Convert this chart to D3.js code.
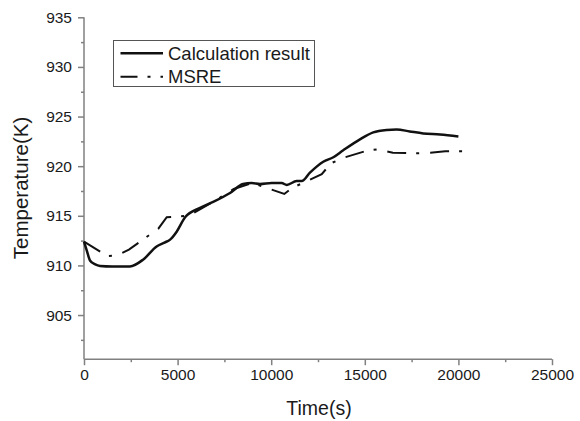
<!DOCTYPE html>
<html>
<head>
<meta charset="utf-8">
<script src="https://cdn.jsdelivr.net/npm/d3@7"></script>
<style>
  html, body { margin: 0; padding: 0; background: #fff; }
  svg { display: block; font-family: "Liberation Sans", Arial, sans-serif; }
  .axis path, .axis line { stroke: #808080; stroke-width: 1.5; }
  .axis text { fill: #1a1a1a; font-size: 15.5px; }
</style>
</head>
<body>
<svg id="chart" width="580" height="421"></svg>
<script>
// Calculation result: [time (s), temperature (K)]
const calcTime = [0, 150, 320, 600, 855, 1500, 2450, 3170, 3880, 4300, 4600, 4950, 5400, 6200, 6900,
  7800, 8500, 8960, 9400, 10030, 10560, 10830, 11360, 11630, 12070, 12780, 13320, 13850, 14740,
  15450, 16170, 16700, 17400, 18120, 19020, 20000];
const calcTemp = [912.4, 911.5, 910.5, 910.1, 909.95, 909.9, 909.9, 910.6, 911.9, 912.3, 912.6, 913.4,
  914.85, 915.8, 916.4, 917.3, 918.2, 918.3, 918.2, 918.3, 918.3, 918.1, 918.5, 918.5, 919.35, 920.45,
  920.9, 921.6, 922.7, 923.4, 923.65, 923.7, 923.5, 923.3, 923.2, 923.0];

// MSRE measurement
const msreTime = [0, 1250, 1750, 2400, 3970, 4420, 5580, 6900, 8000, 9000, 10700, 11100, 11800, 12700,
  13200, 13950, 15100, 15700, 16500, 17800, 18500, 19300, 20500];
const msreTemp = [912.4, 910.95, 911.0, 911.6, 913.7, 914.85, 915.0, 916.4, 917.7, 918.3, 917.2, 917.8,
  918.4, 919.2, 920.3, 920.9, 921.55, 921.7, 921.35, 921.3, 921.35, 921.5, 921.5];

const xTicks = [0, 5000, 10000, 15000, 20000, 25000];
const yTicks = [905, 910, 915, 920, 925, 930, 935];
const seriesNames = ['Calculation result', 'MSRE'];

const svg = d3.select('#chart');
const x = d3.scaleLinear().domain([0, 25000]).range([84, 552]);
const y = d3.scaleLinear().domain([900.55, 935]).range([359.2, 17.3]);

// minor ticks (no labels)
const xMinor = d3.range(0, 25001, 2500).filter((v) => !xTicks.includes(v));
const yMinor = d3.range(902.5, 935, 5);

svg.append('g')
  .attr('class', 'axis')
  .attr('transform', `translate(0,${y.range()[0]})`)
  .call(d3.axisBottom(x).tickValues(xTicks).tickSize(6).tickPadding(4).tickFormat(d3.format('d')))
  .call((g) => g.select('.domain').attr('d', `M${x.range()[0]},0H${x.range()[1]}`));

svg.append('g')
  .attr('class', 'axis')
  .attr('transform', `translate(0,${y.range()[0]})`)
  .call(d3.axisBottom(x).tickValues(xMinor).tickSize(3).tickFormat(''))
  .call((g) => g.select('.domain').remove());

svg.append('g')
  .attr('class', 'axis')
  .attr('transform', `translate(${x.range()[0]},0)`)
  .call(d3.axisLeft(y).tickValues(yTicks).tickSize(6).tickPadding(6).tickFormat(d3.format('d')))
  .call((g) => g.select('.domain').attr('d', `M0,${y.range()[0]}V${y.range()[1]}`));

svg.append('g')
  .attr('class', 'axis')
  .attr('transform', `translate(${x.range()[0]},0)`)
  .call(d3.axisLeft(y).tickValues(yMinor).tickSize(3).tickFormat(''))
  .call((g) => g.select('.domain').remove());

// lines
const smoothLine = d3.line()
  .x((d) => x(d[0]))
  .y((d) => y(d[1]))
  .curve(d3.curveMonotoneX);

const straightLine = d3.line()
  .x((d) => x(d[0]))
  .y((d) => y(d[1]));

const msreData = msreTime.map((t, i) => [t, msreTemp[i]]);
const calcData = calcTime.map((t, i) => [t, calcTemp[i]]);

svg.append('path')
  .datum(msreData)
  .attr('d', straightLine)
  .attr('fill', 'none')
  .attr('stroke', '#111')
  .attr('stroke-width', 2)
  .attr('stroke-dasharray', '19,10,3,11');

svg.append('path')
  .datum(calcData)
  .attr('d', smoothLine)
  .attr('fill', 'none')
  .attr('stroke', '#111')
  .attr('stroke-width', 2.5)
  .attr('stroke-linejoin', 'round');

// axis titles
svg.append('text')
  .attr('x', 319)
  .attr('y', 415)
  .attr('text-anchor', 'middle')
  .attr('font-size', '19.5px')
  .attr('fill', '#1a1a1a')
  .text('Time(s)');

svg.append('text')
  .attr('transform', 'translate(28,188) rotate(-90)')
  .attr('text-anchor', 'middle')
  .attr('font-size', '20.5px')
  .attr('fill', '#1a1a1a')
  .text('Temperature(K)');

// legend
const legend = svg.append('g');
legend.append('rect')
  .attr('x', 113.5)
  .attr('y', 40.5)
  .attr('width', 201)
  .attr('height', 46)
  .attr('fill', '#fff')
  .attr('stroke', '#555')
  .attr('stroke-width', 1);

seriesNames.forEach((name, i) => {
  const ly = 53.3 + i * 23.4;
  legend.append('line')
    .attr('x1', 120.5)
    .attr('x2', 163)
    .attr('y1', ly)
    .attr('y2', ly)
    .attr('stroke', '#111')
    .attr('stroke-width', i === 0 ? 2.5 : 2)
    .attr('stroke-dasharray', i === 0 ? null : '17,10,3,10');
  legend.append('text')
    .attr('x', 168)
    .attr('y', ly + 6.5)
    .attr('font-size', '18.5px')
    .attr('fill', '#1a1a1a')
    .text(name);
});
</script>
</body>
</html>
